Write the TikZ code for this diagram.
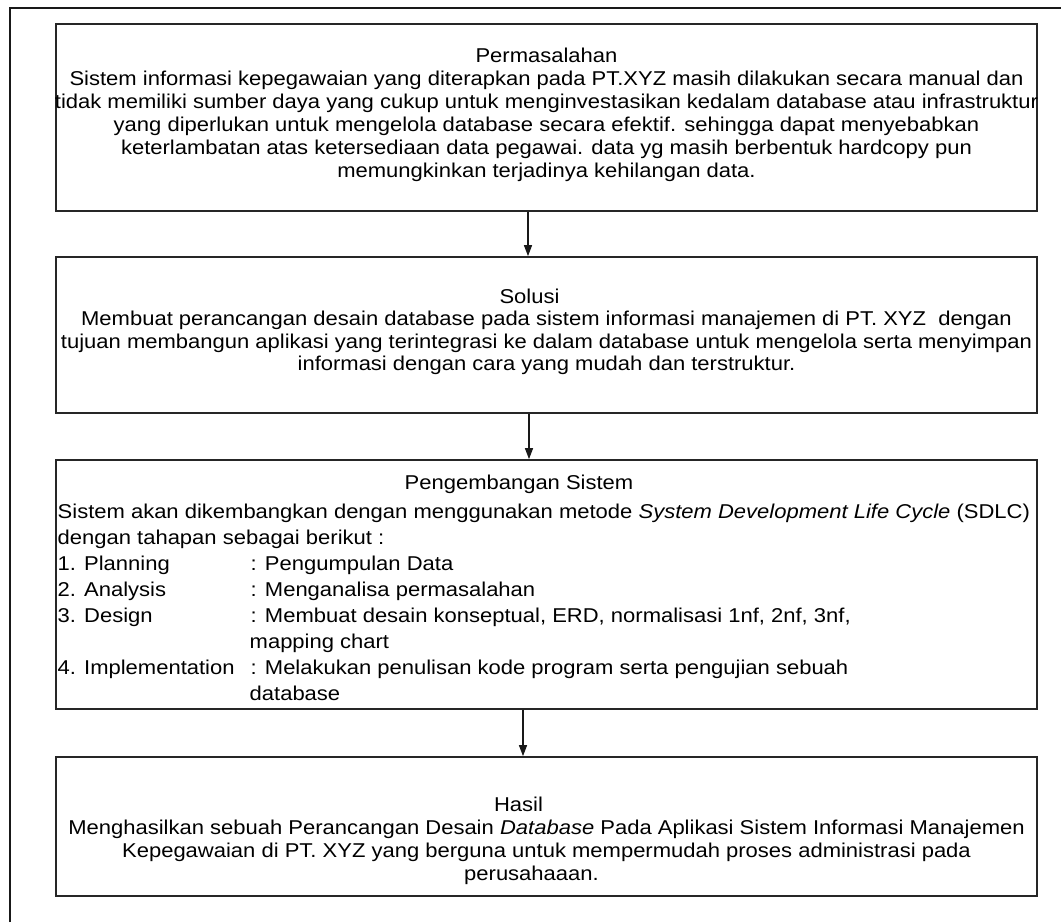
\documentclass[tikz,border=0pt]{standalone}
\usepackage{fontspec}
\setmainfont[FakeStretch=1.10]{Liberation Sans}
\usetikzlibrary{arrows.meta}
\begin{document}
\begin{tikzpicture}[x=1pt,y=-1pt,
  frame/.style={draw=black!90, line width=1.5pt},
  box/.style={draw=black!85, line width=1.7pt, minimum width=981pt, inner sep=0pt},
  txt/.style={align=center, inner sep=0pt, font=\fontsize{20}{23}\selectfont},
  ltxt/.style={align=left, inner sep=0pt, font=\fontsize{20}{26}\selectfont},
  arr/.style={draw=black!90, line width=1.3pt, -{Triangle[length=11pt,width=8pt]}}]
\useasboundingbox (0,0) rectangle (1061,922);
\draw[frame] (10,922) -- (10,8) -- (1061,8);
% boxes
\node[box, minimum height=187pt] (b1) at (546.5,117.5) {};
\node[box, minimum height=156pt] (b2) at (546.5,335) {};
\node[box, minimum height=249pt] (b3) at (546.5,584.5) {};
\node[box, minimum height=139pt] (b4) at (546.5,826.5) {};
% texts (base anchor = baseline of last line)
\node[txt, anchor=base] (t1) at (546.5,177) {Permasalahan\\
Sistem informasi kepegawaian yang diterapkan pada PT.XYZ masih dilakukan secara manual dan\\
tidak memiliki sumber daya yang cukup untuk menginvestasikan kedalam database atau infrastruktur\\
yang diperlukan untuk mengelola database secara efektif. sehingga dapat menyebabkan\\
keterlambatan atas ketersediaan data pegawai. data yg masih berbentuk hardcopy pun\\
memungkinkan terjadinya kehilangan data.};
\node[txt, anchor=base, font=\fontsize{20}{22.5}\selectfont] (t2) at (546.5,370.5) {Solusi\hspace*{34pt}\\
Membuat perancangan desain database pada sistem informasi manajemen di PT. XYZ~ dengan\\
tujuan membangun aplikasi yang terintegrasi ke dalam database untuk mengelola serta menyimpan\\
informasi dengan cara yang mudah dan terstruktur.};
\node[txt, anchor=base] (t3a) at (519,489) {Pengembangan Sistem};
\node[ltxt, anchor=base west] (t3b) at (57.5,700) {Sistem akan dikembangkan dengan menggunakan metode \textit{System Development Life Cycle} (SDLC)\\
dengan tahapan sebagai berikut :\\
\makebox[193pt][l]{1. Planning}: Pengumpulan Data\\
\makebox[193pt][l]{2. Analysis}: Menganalisa permasalahan\\
\makebox[193pt][l]{3. Design}: Membuat desain konseptual, ERD, normalisasi 1nf, 2nf, 3nf,\\
\hspace*{192pt}mapping chart\\
\makebox[193pt][l]{4. Implementation}: Melakukan penulisan kode program serta pengujian sebuah\\
\hspace*{192pt}database};
\node[txt, anchor=base] (t4) at (546.5,880) {Hasil\hspace*{56pt}\\
Menghasilkan sebuah Perancangan Desain \textit{Database} Pada Aplikasi Sistem Informasi Manajemen\\
Kepegawaian di PT. XYZ yang berguna untuk mempermudah proses administrasi pada\\
perusahaaan.\hspace*{30pt}};
% arrows
\coordinate (ax1) at (528,0);
\coordinate (ax2) at (529,0);
\coordinate (ax3) at (523,0);
\draw[arr] (b1.south -| ax1) -- (b2.north -| ax1);
\draw[arr] (b2.south -| ax2) -- (b3.north -| ax2);
\draw[arr] (b3.south -| ax3) -- (b4.north -| ax3);
\end{tikzpicture}
\end{document}
